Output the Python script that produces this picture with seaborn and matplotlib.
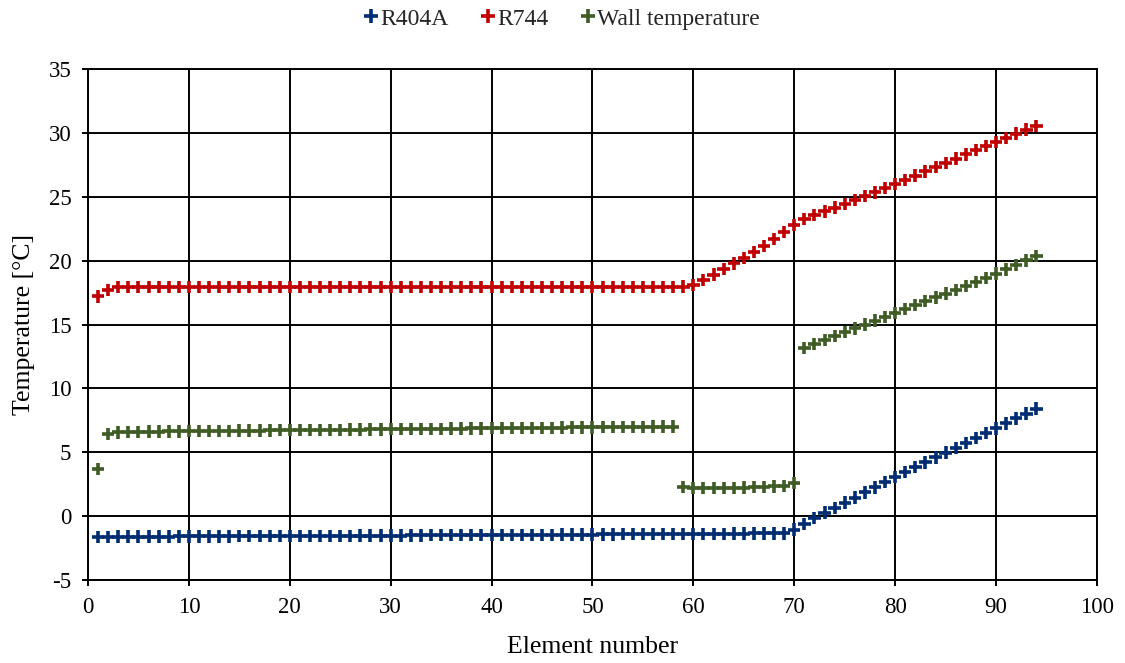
import matplotlib
matplotlib.use("Agg")
import matplotlib.pyplot as plt
import seaborn as sns
import pandas as pd
from matplotlib.lines import Line2D

element = list(range(1, 95))

r404a = [
    -1.62, -1.62, -1.61, -1.61, -1.61, -1.60, -1.60, -1.60, -1.59, -1.59,
    -1.59, -1.58, -1.58, -1.58, -1.57, -1.57, -1.57, -1.56, -1.56, -1.56,
    -1.55, -1.55, -1.55, -1.54, -1.54, -1.54, -1.53, -1.53, -1.52, -1.52,
    -1.52, -1.51, -1.51, -1.50, -1.50, -1.50, -1.49, -1.49, -1.48, -1.48,
    -1.48, -1.47, -1.47, -1.46, -1.46, -1.46, -1.45, -1.45, -1.44, -1.44,
    -1.43, -1.43, -1.42, -1.42, -1.42, -1.41, -1.41, -1.40, -1.40, -1.39,
    -1.39, -1.38, -1.38, -1.37, -1.37, -1.36, -1.36, -1.35, -1.35, -1.05,
    -0.60, -0.15, 0.27, 0.65, 1.05, 1.45, 1.85, 2.25, 2.65, 3.05,
    3.45, 3.83, 4.21, 4.59, 4.97, 5.35, 5.73, 6.11, 6.49, 6.87,
    7.26, 7.65, 8.03, 8.42,
]

r744 = [
    17.20, 17.70, 17.92, 17.94, 17.95, 17.95, 17.95, 17.95, 17.95, 17.95,
    17.95, 17.95, 17.95, 17.95, 17.95, 17.95, 17.95, 17.95, 17.95, 17.95,
    17.95, 17.95, 17.95, 17.95, 17.95, 17.95, 17.95, 17.95, 17.95, 17.95,
    17.95, 17.95, 17.95, 17.95, 17.95, 17.95, 17.95, 17.95, 17.95, 17.95,
    17.95, 17.95, 17.95, 17.95, 17.95, 17.95, 17.95, 17.95, 17.95, 17.95,
    17.95, 17.95, 17.95, 17.95, 17.95, 17.95, 17.95, 17.95, 17.96, 18.08,
    18.47, 18.90, 19.33, 19.78, 20.22, 20.68, 21.16, 21.68, 22.22, 22.78,
    23.25, 23.55, 23.85, 24.15, 24.45, 24.75, 25.05, 25.35, 25.68, 26.00,
    26.33, 26.66, 26.99, 27.32, 27.65, 27.98, 28.31, 28.64, 28.97, 29.30,
    29.62, 29.94, 30.25, 30.55,
]

wall = [
    3.70, 6.45, 6.55, 6.58, 6.60, 6.61, 6.62, 6.63, 6.64, 6.65,
    6.66, 6.67, 6.67, 6.68, 6.69, 6.70, 6.70, 6.71, 6.72, 6.73,
    6.73, 6.74, 6.75, 6.76, 6.76, 6.77, 6.78, 6.79, 6.79, 6.80,
    6.81, 6.82, 6.82, 6.83, 6.84, 6.85, 6.85, 6.86, 6.87, 6.88,
    6.88, 6.89, 6.90, 6.91, 6.91, 6.92, 6.93, 6.94, 6.94, 6.95,
    6.96, 6.97, 6.97, 6.98, 6.99, 7.00, 7.00, 7.01, 2.28, 2.18,
    2.18, 2.19, 2.20, 2.22, 2.24, 2.26, 2.29, 2.32, 2.36, 2.58,
    13.15, 13.48, 13.80, 14.10, 14.40, 14.70, 15.00, 15.30, 15.60, 15.92,
    16.22, 16.52, 16.82, 17.12, 17.42, 17.72, 18.02, 18.33, 18.65, 18.98,
    19.32, 19.67, 20.02, 20.38,
]

series_names = ["R404A", "R744", "Wall temperature"]
colors = ["#002D72", "#C00000", "#3E5C24"]

x_ticks = [0, 10, 20, 30, 40, 50, 60, 70, 80, 90, 100]
y_ticks = [-5, 0, 5, 10, 15, 20, 25, 30, 35]

df = pd.concat([
    pd.DataFrame({"Element": element, "Temp": vals, "Series": name})
    for name, vals in zip(series_names, [r404a, r744, wall])
], ignore_index=True)

sns.set_theme(style="white")
plt.rcParams["font.family"] = ["Liberation Serif", "DejaVu Serif"]

fig = plt.figure(figsize=(11.25, 6.63), dpi=100)
ax = fig.add_axes([0.0782, 0.1252, 0.8969, 0.7707])

sns.scatterplot(data=df, x="Element", y="Temp", hue="Series",
                hue_order=series_names, palette=colors,
                marker="+", s=80, linewidth=2.6, ax=ax, zorder=3, legend=False)

ax.set_xlim(0, 100)
ax.set_ylim(-5, 35)
ax.set_xticks(x_ticks)
ax.set_yticks(y_ticks)
ax.set_xticklabels([str(t) for t in x_ticks], fontsize=16.5)
ax.set_yticklabels([str(t) for t in y_ticks], fontsize=16.5)
ax.grid(True, color="black", linewidth=1.4)
ax.set_axisbelow(True)
for sp in ax.spines.values():
    sp.set_color("black")
    sp.set_linewidth(1.4)
ax.tick_params(axis="both", direction="out", length=4, width=1.4, color="black",
               left=True, bottom=True, labelcolor="black")
ax.tick_params(axis="y", pad=8)
ax.tick_params(axis="x", pad=8)
ax.set_xlabel("Element number", fontsize=18.5, color="black", labelpad=13)
ax.set_ylabel("Temperature [°C]", fontsize=18.5, color="black", labelpad=10)

handles = [Line2D([], [], linestyle="", marker="+", markersize=10,
                  markeredgewidth=2.6, color=c) for c in colors]
fig.legend(handles, series_names, loc="upper center", bbox_to_anchor=(0.5, 1.02),
           ncol=3, frameon=False, fontsize=17, handlelength=0.5,
           handletextpad=0.15, columnspacing=1.4)

fig.savefig("out.png", dpi=100)
